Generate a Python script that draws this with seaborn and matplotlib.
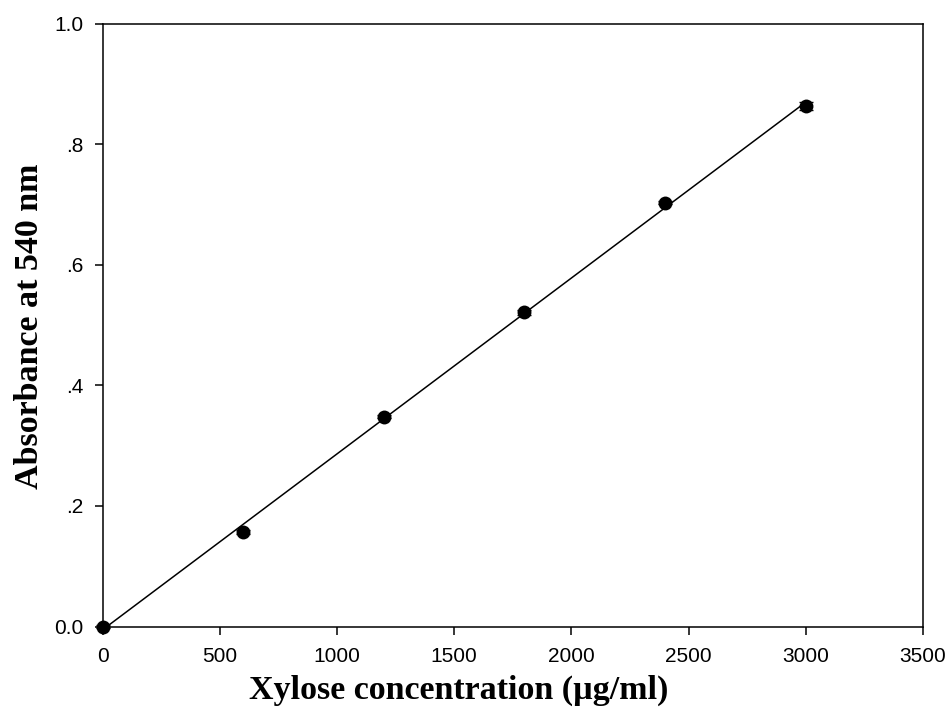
import numpy as np
import pandas as pd
import matplotlib
matplotlib.use("Agg")
import matplotlib.pyplot as plt
import seaborn as sns

# Xylose standard curve (DNS assay)
concentration = [0, 600, 1200, 1800, 2400, 3000]
absorbance = [0.000, 0.157, 0.348, 0.521, 0.703, 0.863]
abs_error = [0.002, 0.003, 0.003, 0.004, 0.003, 0.006]

x_ticks = [0, 500, 1000, 1500, 2000, 2500, 3000, 3500]
y_ticks = [0.0, 0.2, 0.4, 0.6, 0.8, 1.0]
y_tick_labels = ["0.0", ".2", ".4", ".6", ".8", "1.0"]

df = pd.DataFrame({"conc": concentration, "abs": absorbance, "err": abs_error})

sns.set_style("ticks")
plt.rcParams["font.family"] = ["Liberation Sans", "DejaVu Sans"]
plt.rcParams["text.color"] = "black"

W, H = 952, 708
fig = plt.figure(figsize=(W / 100, H / 100), dpi=100)
ax = fig.add_axes([102.5 / W, 1 - 626.5 / H, (923 - 102.5) / W, (626.5 - 23.5) / H])

ax.errorbar(df["conc"], df["abs"], yerr=df["err"], fmt="none",
            ecolor="black", elinewidth=1.0, capsize=5, capthick=1.0,
            zorder=2, clip_on=False)
sns.regplot(data=df, x="conc", y="abs", ax=ax, ci=None, truncate=True,
            scatter_kws={"s": 100, "color": "black", "edgecolor": "black",
                         "linewidths": 0, "alpha": 1, "zorder": 3,
                         "clip_on": False},
            line_kws={"color": "black", "linewidth": 1.1, "zorder": 1})

ax.set_xlim(0, 3500)
ax.set_ylim(0, 1.0)
ax.set_xticks(x_ticks)
ax.set_yticks(y_ticks)
ax.set_yticklabels(y_tick_labels)
ax.tick_params(axis="both", direction="out", length=6, width=1.1,
               labelsize=15, colors="black", labelcolor="black", pad=8)
ax.tick_params(axis="x", pad=9)
for side in ax.spines.values():
    side.set_visible(True)
    side.set_linewidth(1.1)
    side.set_color("black")
ax.tick_params(top=False, right=False)
ax.set_xlabel("")
ax.set_ylabel("")

label_font = {"family": ["Liberation Serif", "DejaVu Serif"], "weight": "bold",
              "size": 24.5, "color": "black"}
fig.text(459 / W, 9 / H, "Xylose concentration (\u00b5g/ml)", ha="center",
         va="baseline", fontdict=label_font)
fig.text(30 / W, 1 - 326 / H, "Absorbance at 540 nm", ha="center", va="center",
         rotation=90, fontdict=label_font)

fig.savefig("out.png", dpi=100)
